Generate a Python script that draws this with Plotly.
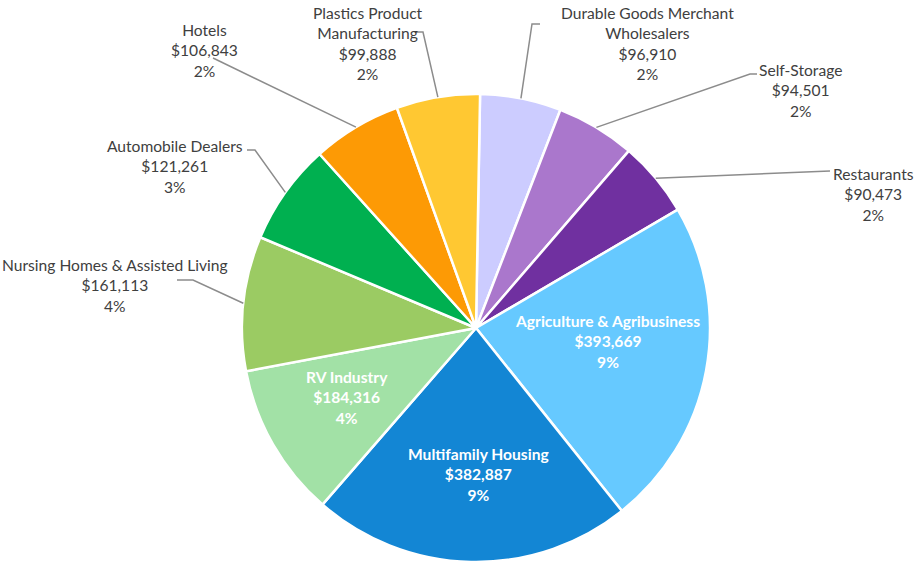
import math
import plotly.graph_objects as go

# Loan volume by industry (clockwise from 12 o'clock)
industries = [
    "Durable Goods Merchant Wholesalers", "Self-Storage", "Restaurants",
    "Agriculture & Agribusiness", "Multifamily Housing", "RV Industry",
    "Nursing Homes & Assisted Living", "Automobile Dealers", "Hotels",
    "Plastics Product Manufacturing",
]
amounts = [96910, 94501, 90473, 393669, 382887, 184316, 161113, 121261, 106843, 99888]
shares = [2, 2, 2, 9, 9, 4, 4, 3, 2, 2]  # share of total portfolio, %
colors = ["#CCCCFF", "#AA77CC", "#7030A0", "#66C9FF", "#1386D4", "#A2E1A6",
          "#9BCB63", "#00B050", "#FD9A05", "#FFC832"]

# Line-broken label names
label_names = [
    "Durable Goods Merchant<br>Wholesalers", "Self-Storage", "Restaurants",
    "Agriculture & Agribusiness", "Multifamily Housing", "RV Industry",
    "Nursing Homes & Assisted Living", "Automobile Dealers", "Hotels",
    "Plastics Product<br>Manufacturing",
]

W, H = 916, 563
CX, CY, R = 476, 328, 234
ROT = 1.0
FONT = "Lato"
FSIZE = 15.6

# Label placement (pixel centre of text block) and leader-line waypoints
label_pos = [(647, 44), (800, 90), (873, 195), (607, 341), (478, 474),
             (347, 397), (115, 285), (175, 166), (204, 50), (368, 44)]
inside = [False, False, False, True, True, True, False, False, False, False]
leader_pts = [
    [(540, 24), (532, 24)],
    [(757, 74), (750, 74)],
    [(830, 171)],
    None, None, None,
    [(177, 280), (193, 280)],
    [(247, 150), (255, 150)],
    [(213, 58)],
    [(415, 32), (423, 32)],
]

fig = go.Figure(go.Pie(
    labels=industries,
    values=amounts,
    sort=False,
    direction="clockwise",
    rotation=ROT,
    textinfo="none",
    hoverinfo="label+value",
    marker=dict(colors=colors, line=dict(color="white", width=2.5)),
    domain=dict(x=[(CX - R) / W, (CX + R) / W], y=[1 - (CY + R) / H, 1 - (CY - R) / H]),
    showlegend=False,
))

def px(x):
    return x / W

def py(y):
    return 1 - y / H

total = sum(amounts)
cum = 0.0
for i, v in enumerate(amounts):
    mid = ROT + 360.0 * (cum + v / 2) / total
    cum += v
    text = f"{label_names[i]}<br>${amounts[i]:,}<br>{shares[i]}%"
    lx, ly = label_pos[i]
    if inside[i]:
        fig.add_annotation(x=px(lx), y=py(ly), xref="paper", yref="paper",
                           xanchor="center", yanchor="middle",
                           text=f"<b>{text}</b>", showarrow=False, align="center",
                           font=dict(family=FONT, size=FSIZE, color="white"))
        continue
    fig.add_annotation(x=px(lx), y=py(ly), xref="paper", yref="paper",
                       xanchor="center", yanchor="middle",
                       text=text, showarrow=False, align="center",
                       font=dict(family=FONT, size=FSIZE, color="#404040"))
    a = math.radians(mid)
    ex, ey = CX + R * math.sin(a), CY - R * math.cos(a)
    pts = leader_pts[i] + [(ex, ey)]
    path = "M " + " L ".join(f"{px(x):.5f},{py(y):.5f}" for x, y in pts)
    fig.add_shape(type="path", path=path, xref="paper", yref="paper",
                  line=dict(color="#8C8C8C", width=1.5))

fig.update_layout(
    width=W, height=H,
    margin=dict(l=0, r=0, t=0, b=0),
    paper_bgcolor="white", plot_bgcolor="white",
    font=dict(family=FONT),
)

fig.write_html("out.html")
